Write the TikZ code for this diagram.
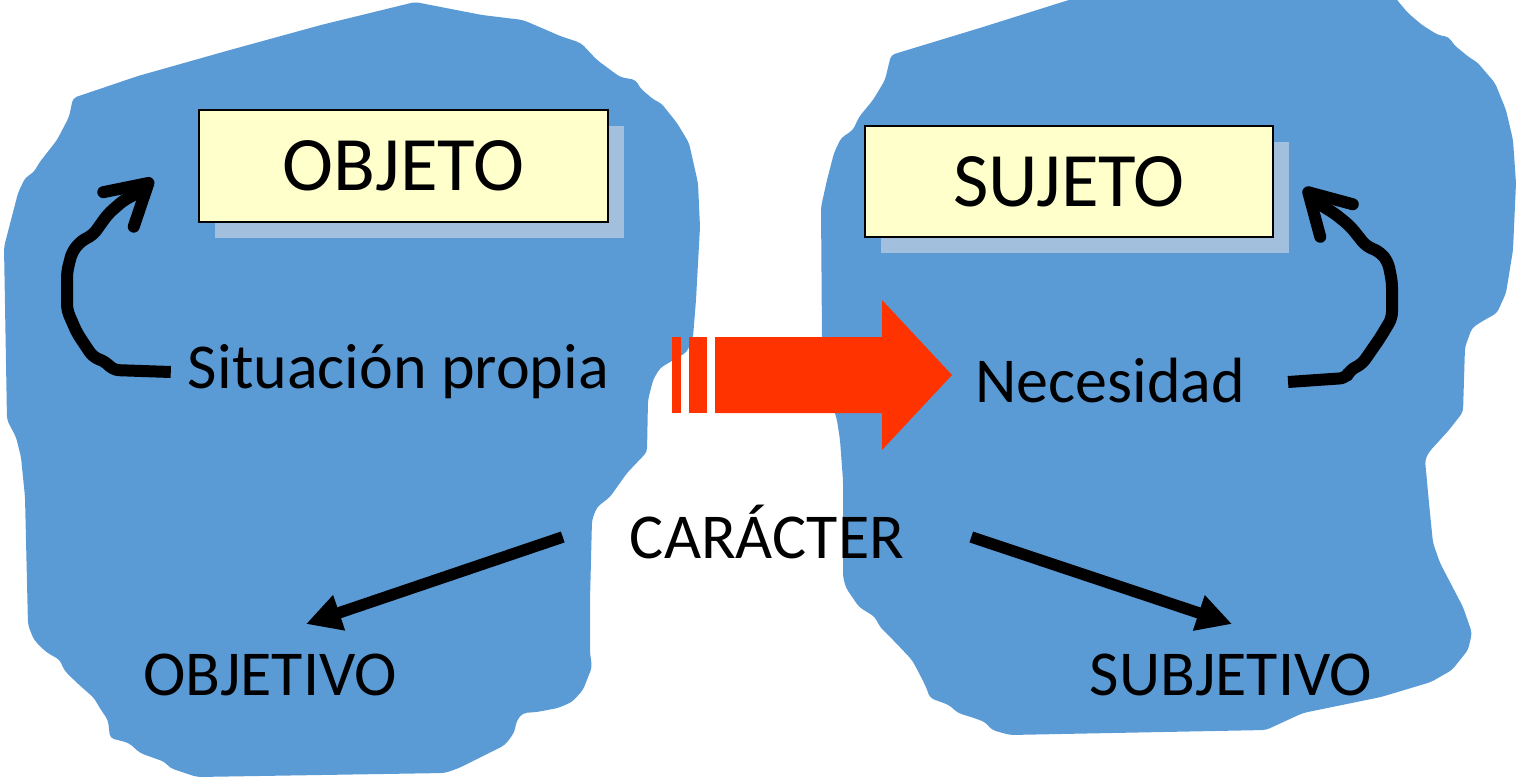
\documentclass[tikz,border=0pt]{standalone}
\usepackage{fontspec}
\setmainfont{Carlito}
\usetikzlibrary{arrows.meta,shadows}
\definecolor{blobc}{HTML}{5B9BD5}
\definecolor{boxc}{HTML}{FFFFCC}
\definecolor{shadc}{RGB}{162,191,222}
\definecolor{redc}{HTML}{FF3300}
\begin{document}
\begin{tikzpicture}[x=1pt,y=-1pt,
  blobshape/.style={fill=blobc, draw=none, rounded corners=4pt},
  titlebox/.style={draw=black, line width=2pt, fill=boxc, inner sep=0pt,
    minimum width=409pt, minimum height=112pt,
    font=\fontsize{77}{90}\selectfont,
    drop shadow={shadow xshift=16pt, shadow yshift=-16pt, fill=shadc, opacity=1}},
  lbl/.style={inner sep=0pt, anchor=base, font=\fontsize{64}{76}\selectfont},
  curvearrow/.style={line width=12pt, line join=round, line cap=butt, rounded corners=6pt,
    -{Straight Barb[length=40pt,width=46pt,round]}},
  straightarrow/.style={line width=11.5pt, -{Triangle[length=35pt,width=35pt]}},
  blockarrow/.style={fill=redc, draw=none}
]
\clip (0,0) rectangle (1517,778);

% left blob
\path[blobshape] (415,2) -- (482,15) -- (523,20) -- (551,32) -- (560,36) -- (581,43) -- (597,60)
  -- (620,77) -- (636,80) -- (640,88) -- (654,100) -- (661,103) -- (677,123) -- (689,143)
  -- (698,183) -- (700,227) -- (696,300) -- (693,337) -- (687,352) -- (660,368) -- (653,380)
  -- (648,400) -- (647,452) -- (627,473) -- (610,497) -- (597,507) -- (592,520) -- (590,600)
  -- (590,653) -- (592,667) -- (583,690) -- (572,702) -- (558,708) -- (537,712) -- (523,713)
  -- (517,720) -- (514,733) -- (505,745) -- (459,768) -- (445,773) -- (197,777) -- (170,768)
  -- (165,762) -- (140,753) -- (129,743) -- (110,738) -- (108,720) -- (101,710) -- (94,698)
  -- (76,682) -- (64,670) -- (60,660) -- (46,652) -- (34,640) -- (28,625) -- (25,497)
  -- (21,457) -- (16,437) -- (7,420) -- (4,247) -- (11,220) -- (18,193) -- (25,178) -- (34,172)
  -- (39,163) -- (57,140) -- (69,117) -- (73,98) -- (138,76) -- (230,50) -- (321,25) -- cycle;

% right blob
\path[blobshape] (1107,-12) -- (1390,-12) -- (1397,0) -- (1408,13) -- (1422,25) -- (1438,35)
  -- (1449,37) -- (1454,45) -- (1470,58) -- (1477,62) -- (1495,83) -- (1506,110) -- (1513,140)
  -- (1516,183) -- (1513,250) -- (1506,293) -- (1497,313) -- (1481,322) -- (1472,328)
  -- (1465,347) -- (1463,412) -- (1449,430) -- (1429,452) -- (1425,460) -- (1429,503)
  -- (1433,543) -- (1440,563) -- (1463,607) -- (1472,633) -- (1468,650) -- (1452,670)
  -- (1431,682) -- (1381,697) -- (1303,713) -- (1292,718) -- (1266,730) -- (1010,735)
  -- (992,730) -- (985,722) -- (974,718) -- (958,713) -- (949,705) -- (930,698) -- (926,687)
  -- (919,673) -- (912,660) -- (896,643) -- (880,627) -- (875,617) -- (859,607) -- (846,588)
  -- (843,577) -- (843,480) -- (840,440) -- (837,420) -- (828,390) -- (822,340) -- (821,207)
  -- (827,180) -- (834,153) -- (841,138) -- (853,130) -- (859,117) -- (873,100) -- (885,80)
  -- (891,55) -- (983,27) -- cycle;

% red block arrow
\fill[blockarrow] (672,337) rectangle (681,413);
\fill[blockarrow] (689,337) rectangle (707,413);
\fill[blockarrow] (715,337) -- (882,337) -- (882,300) -- (952,375) -- (882,450) -- (882,413)
  -- (715,413) -- cycle;

% title boxes
\node[titlebox] (obj) at (403.5,166) {OBJETO};
\node[titlebox, minimum width=408pt, minimum height=111pt] (suj) at (1069,181.5) {SUJETO};

% labels
\node[lbl] (sit) at (398.5,388) {Situación propia};
\node[lbl] (nec) at (1110,402) {Necesidad};
\node[lbl] (car) at (767,558) {CARÁCTER};
\node[lbl] (objv) at (270,695) {OBJETIVO};
\node[lbl] (subj) at (1231,695) {SUBJETIVO};

% curved arrows
\draw[curvearrow] ([shift={(-17,-16)}]sit.base west) -- (113,370) -- (106,362) -- (93,357)
  -- (77,333) -- (67,310) -- (67,272) -- (72,252) -- (81,241) -- (93,235) -- (108,214)
  -- (124,200) -- (136,194) -- ([shift={(-45,13)}]obj.west);
\draw[curvearrow] ([shift={(43,-20)}]nec.base east) -- (1346,378) -- (1350,370) -- (1362,364)
  -- (1380,338) -- (1392,318) -- (1392,282) -- (1388,262) -- (1380,252) -- (1366,246)
  -- (1350,226) -- (1334,213) -- (1322,206) -- ([shift={(30,6.5)}]suj.east);

% straight arrows
\draw[straightarrow] ([shift={(-67,-21)}]car.base west) -- ([shift={(36,-71)}]objv.base);
\draw[straightarrow] ([shift={(67,-21)}]car.base east) -- ([shift={(1,-71)}]subj.base);
\end{tikzpicture}
\end{document}
